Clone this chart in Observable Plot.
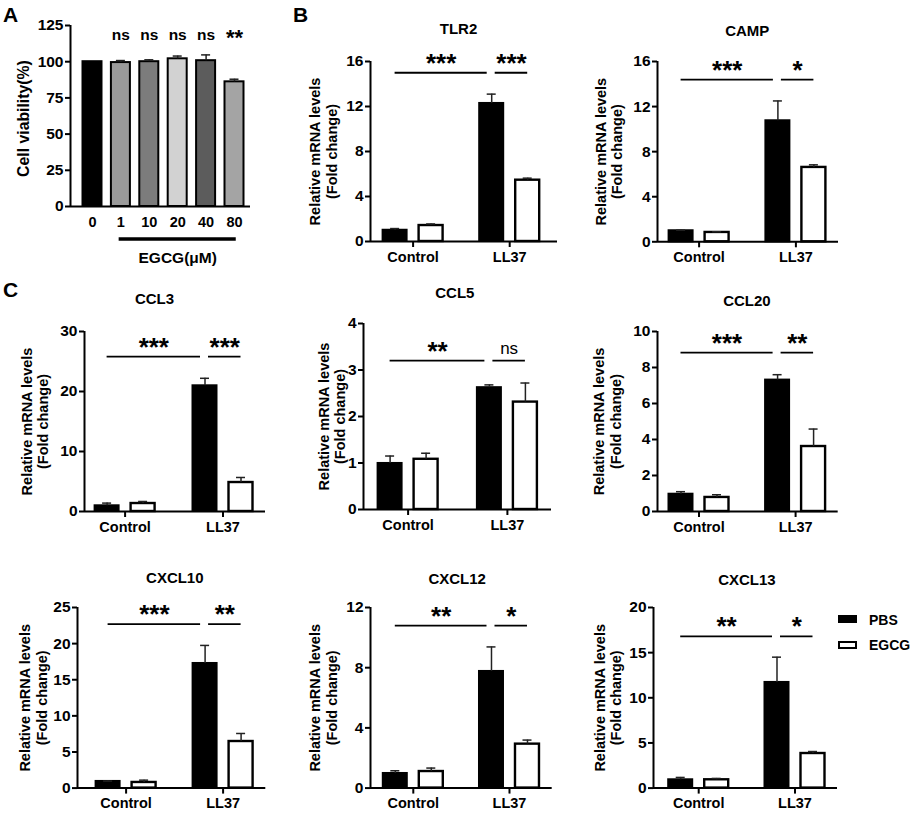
<!DOCTYPE html>
<html>
<head>
<meta charset="utf-8">
<script src="https://cdn.jsdelivr.net/npm/d3@7"></script>
<script src="https://cdn.jsdelivr.net/npm/@observablehq/plot@0.6"></script>
<style>
  html, body { margin: 0; padding: 0; background: #fff; }
  #fig { position: relative; width: 913px; height: 813px; overflow: hidden; background: #fff;
         font-family: "Liberation Sans", Arial, sans-serif; color: #000; }
  #fig svg { position: absolute; background: transparent; overflow: visible; max-width: none; }
  #fig g[aria-label="x-axis tick"], #fig g[aria-label="y-axis tick"] { stroke-width: 2px; }
  #fig g[aria-label="y-axis tick label"] { font-size: 15.5px; }
  #fig g[aria-label="x-axis tick label"] { font-size: 14.5px; }
  .plabel { position: absolute; font-weight: bold; font-size: 21px; line-height: 1; }
  .leg { position: absolute; font-weight: bold; font-size: 14px; line-height: 1; }
  .box { position: absolute; width: 19px; height: 8px; box-sizing: border-box; border: 2px solid #000; }
</style>
</head>
<body>
<div id="fig"></div>
<script>
// ---------------- data ----------------
// Panel A: cell viability
const doses = ["0", "1", "10", "20", "40", "80"];
const viability = [100, 99.4, 100.0, 102.0, 100.7, 86.1];
const viabilitySD = [0, 1.4, 1.3, 1.9, 4.0, 1.8];
const viabilitySig = ["", "ns", "ns", "ns", "ns", "**"];
const viabilitySigLevel = 115;
const viabilityTicks = [0, 25, 50, 75, 100, 125];

// Panels B and C: relative mRNA levels
const genes = ["TLR2", "CAMP", "CCL3", "CCL5", "CCL20", "CXCL10", "CXCL12", "CXCL13"];
const groups = ["Control", "LL37"];
const treatments = ["PBS", "EGCG"];
const controlPBS   = [1.00, 0.98, 0.95, 0.99, 0.96, 0.92, 0.97, 0.92];
const controlPBSsd = [0.15, 0.05, 0.45, 0.16, 0.14, 0.05, 0.18, 0.26];
const controlEGCG   = [1.42, 0.83, 1.33, 1.08, 0.78, 0.78, 1.10, 0.92];
const controlEGCGsd = [0.14, 0.06, 0.34, 0.13, 0.15, 0.32, 0.23, 0.15];
const ll37PBS   = [12.27, 10.74, 20.95, 2.62, 7.30, 17.25, 7.75, 11.70];
const ll37PBSsd = [0.83, 1.76, 1.25, 0.06, 0.30, 2.50, 1.63, 2.80];
const ll37EGCG   = [5.45, 6.60, 4.83, 2.31, 3.61, 6.45, 2.92, 3.83];
const ll37EGCGsd = [0.18, 0.23, 0.84, 0.41, 0.97, 1.11, 0.27, 0.22];
const yMax  = [16, 16, 30, 4, 10, 25, 12, 20];
const yStep = [4, 4, 10, 1, 2, 5, 4, 5];
const sigLL37vsControl = ["***", "***", "***", "**", "***", "***", "**", "**"];
const sigEGCGvsPBS     = ["***", "*", "***", "ns", "**", "**", "*", "*"];
const sigLevel = [15.0, 14.4, 25.8, 3.2, 8.83, 22.7, 10.8, 16.8];

// ---------------- layout (pixels on the page) ----------------
const geneLayout = [
  {ax: 370,   top: 60.7,  bottom: 240.7, right: 557,   c0: 412.6, c1: 509.2, tx: 458,   ty: 28,  yt: 322.5},
  {ax: 657,   top: 60.7,  bottom: 241,   right: 838,   c0: 698.6, c1: 795.4, tx: 746.7, ty: 30,  yt: 608},
  {ax: 84,    top: 330.7, bottom: 510.7, right: 265,   c0: 124.6, c1: 222.5, tx: 154,   ty: 298, yt: 34},
  {ax: 362.7, top: 323.3, bottom: 509.3, right: 550.7, c0: 407.3, c1: 506.6, tx: 454,   ty: 293, yt: 331},
  {ax: 657.3, top: 330.7, bottom: 510.7, right: 838,   c0: 698.8, c1: 795.4, tx: 746.7, ty: 300, yt: 607},
  {ax: 76.7,  top: 606.7, bottom: 787.3, right: 265,   c0: 125.3, c1: 222.3, tx: 174,   ty: 577, yt: 32.5},
  {ax: 370,   top: 606.7, bottom: 787.3, right: 551.7, c0: 412.8, c1: 509,   tx: 456.7, ty: 578, yt: 322.5},
  {ax: 653.3, top: 606.7, bottom: 787.3, right: 837.3, c0: 698.5, c1: 794.8, tx: 746.7, ty: 579, yt: 607.5}
];
const barOffsetPx = 18, barHalfPx = 12, capHalfPx = 4.5;
const FONT = '"Liberation Sans", Arial, sans-serif';
const baseStyle = {fontFamily: FONT, fontSize: "15px", fontWeight: "bold", color: "black", background: "transparent", overflow: "visible"};
const intFmt = d3.format("d");

const fig = document.getElementById("fig");
function place(svg, left, top) {
  svg.style.position = "absolute";
  svg.style.left = left + "px";
  svg.style.top = top + "px";
  fig.appendChild(svg);
}

// ---------------- panel A ----------------
(function () {
  const L = {ax: 70, top: 25, bottom: 206, right: 250, c0: 92, c1: 234, yt: 23.5};
  const mL = 66, mR = 10, mT = 25, mB = 65;
  const svgLeft = L.ax - mL, svgTop = L.top - mT;
  const step = (L.c1 - L.c0) / (doses.length - 1);
  const hw = 9.5 / step, cap = 4.5 / step;
  const fills = ["#000000", "#9a9a9a", "#7c7c7c", "#d2d2d2", "#5c5c5c", "#a4a4a4"];
  const rows = doses.map((d, i) => ({i, dose: d, v: viability[i], sd: viabilitySD[i], sig: viabilitySig[i], fill: fills[i]}));
  const svg = Plot.plot({
    width: mL + (L.right - L.ax) + mR,
    height: mT + (L.bottom - L.top) + mB,
    marginLeft: mL, marginRight: mR, marginTop: mT, marginBottom: mB,
    style: {...baseStyle, fontSize: "15.5px"},
    color: {type: "identity"},
    x: {type: "linear", domain: [0, doses.length - 1], range: [L.c0 - svgLeft, L.c1 - svgLeft],
        ticks: d3.range(doses.length), tickFormat: i => doses[i], tickSize: 0, tickPadding: 10, label: null},
    y: {domain: [0, 125], ticks: viabilityTicks, tickFormat: intFmt, tickSize: 5, tickPadding: 2, label: null},
    marks: [
      Plot.rect(rows, {x1: d => d.i - hw, x2: d => d.i + hw, y1: 0, y2: "v", fill: "fill", stroke: "black", strokeWidth: 2}),
      Plot.ruleX(rows.filter(d => d.sd > 0), {x: "i", y1: "v", y2: d => d.v + d.sd, stroke: "#222", strokeWidth: 1.5}),
      Plot.ruleY(rows.filter(d => d.sd > 0), {y: d => d.v + d.sd, x1: d => d.i - cap, x2: d => d.i + cap, stroke: "#222", strokeWidth: 1.5}),
      Plot.ruleY([0], {strokeWidth: 2}),
      Plot.ruleX([(L.ax - L.c0) / step], {strokeWidth: 2}),
      Plot.text(rows.filter(d => d.sig === "ns"), {x: "i", y: () => viabilitySigLevel, text: "sig", lineAnchor: "bottom", fontSize: 15.5, fontWeight: "bold"}),
      Plot.text(rows.filter(d => d.sig.startsWith("*")), {x: "i", y: () => viabilitySigLevel, text: "sig", lineAnchor: "bottom", dy: 5, fontSize: 22, fontWeight: "bold"}),
      Plot.ruleY([0], {x1: 1, x2: doses.length - 1, dy: 32.5, strokeWidth: 3.5, strokeLinecap: "square"}),
      Plot.text(["EGCG(μM)"], {x: (1 + doses.length - 1) / 2, y: 0, dy: 52, lineAnchor: "middle", fontSize: 15.5, fontWeight: "bold"}),
      Plot.text(["Cell viability(%)"], {frameAnchor: "left", rotate: -90, dx: L.yt - L.ax, dy: 2.5, textAnchor: "middle", lineAnchor: "middle", fontSize: 15.8, fontWeight: "bold"})
    ]
  });
  place(svg, svgLeft, svgTop);
})();

// ---------------- gene panels ----------------
function genePanel(k) {
  const L = geneLayout[k];
  const mL = 72, mR = 12, mT = 50, mB = 40;
  const svgLeft = L.ax - mL, svgTop = L.top - mT;
  const sep = L.c1 - L.c0;
  const off = barOffsetPx / sep, hw = barHalfPx / sep, cap = capHalfPx / sep;
  const rows = [
    {g: 0, t: treatments[0], mean: controlPBS[k], sd: controlPBSsd[k]},
    {g: 0, t: treatments[1], mean: controlEGCG[k], sd: controlEGCGsd[k]},
    {g: 1, t: treatments[0], mean: ll37PBS[k], sd: ll37PBSsd[k]},
    {g: 1, t: treatments[1], mean: ll37EGCG[k], sd: ll37EGCGsd[k]}
  ].map(d => ({...d, pos: d.g + (d.t === "PBS" ? -off : off)}));
  const sig = [
    {x1: -off, x2: 1 - off - 4.5 / sep, label: sigLL37vsControl[k]},
    {x1: 1 - off + 3.5 / sep, x2: 1 + off, label: sigEGCGvsPBS[k]}
  ];
  const yTicks = d3.range(0, yMax[k] + yStep[k] / 2, yStep[k]);
  const lvl = () => sigLevel[k];
  const svg = Plot.plot({
    width: mL + (L.right - L.ax) + mR,
    height: mT + (L.bottom - L.top) + mB,
    marginLeft: mL, marginRight: mR, marginTop: mT, marginBottom: mB,
    style: baseStyle,
    x: {type: "linear", domain: [0, 1], range: [L.c0 - svgLeft, L.c1 - svgLeft],
        ticks: [0, 1], tickFormat: i => groups[i], tickSize: 6, tickPadding: 4, label: null},
    y: {domain: [0, yMax[k]], ticks: yTicks, tickFormat: intFmt, tickSize: 5, tickPadding: 2, label: null},
    marks: [
      Plot.rect(rows.filter(d => d.t === "PBS"), {x1: d => d.pos - hw, x2: d => d.pos + hw, y1: 0, y2: "mean", fill: "black", stroke: "black", strokeWidth: 2}),
      Plot.rect(rows.filter(d => d.t === "EGCG"), {x1: d => d.pos - hw, x2: d => d.pos + hw, y1: 0, y2: "mean", fill: "white", stroke: "black", strokeWidth: 2.4}),
      Plot.ruleX(rows, {x: "pos", y1: "mean", y2: d => d.mean + d.sd, stroke: "#222", strokeWidth: 1.5}),
      Plot.ruleY(rows, {y: d => d.mean + d.sd, x1: d => d.pos - cap, x2: d => d.pos + cap, stroke: "#222", strokeWidth: 1.5}),
      Plot.ruleY([0], {strokeWidth: 2}),
      Plot.ruleX([(L.ax - L.c0) / sep], {strokeWidth: 2}),
      Plot.ruleY(sig, {x1: "x1", x2: "x2", y: lvl, strokeWidth: 1.8}),
      Plot.text(sig.filter(d => d.label !== "ns"), {x: d => (d.x1 + d.x2) / 2, y: lvl, text: "label", lineAnchor: "bottom", dy: -1, fontSize: 26, fontWeight: "bold"}),
      Plot.text(sig.filter(d => d.label === "ns"), {x: d => (d.x1 + d.x2) / 2, y: lvl, text: "label", lineAnchor: "bottom", dy: -7, fontSize: 17, fontWeight: "normal"}),
      Plot.text([genes[k]], {frameAnchor: "top", dx: L.tx - (L.ax + L.right) / 2, dy: L.ty - L.top, textAnchor: "middle", lineAnchor: "middle", fontSize: 15, fontWeight: "bold"}),
      Plot.text(["Relative mRNA levels\n(Fold change)"], {frameAnchor: "left", rotate: -90, dx: L.yt - L.ax, textAnchor: "middle", lineAnchor: "middle", lineHeight: 1.15, fontSize: 14.5, fontWeight: "bold"})
    ]
  });
  place(svg, svgLeft, svgTop);
}
genes.forEach((g, k) => genePanel(k));

// ---------------- panel labels & legend ----------------
function addDiv(cls, text, left, top, extra) {
  const d = document.createElement("div");
  d.className = cls;
  d.textContent = text;
  d.style.left = left + "px";
  d.style.top = top + "px";
  if (extra) Object.assign(d.style, extra);
  fig.appendChild(d);
}
addDiv("plabel", "A", 3, 4);
addDiv("plabel", "B", 293, 4);
addDiv("plabel", "C", 3, 279);
addDiv("box", "", 837.5, 615, {background: "#000"});
addDiv("box", "", 837.5, 640.7, {background: "#fff"});
addDiv("leg", treatments[0], 869, 612.5);
addDiv("leg", treatments[1], 869, 637.5);
</script>
</body>
</html>
